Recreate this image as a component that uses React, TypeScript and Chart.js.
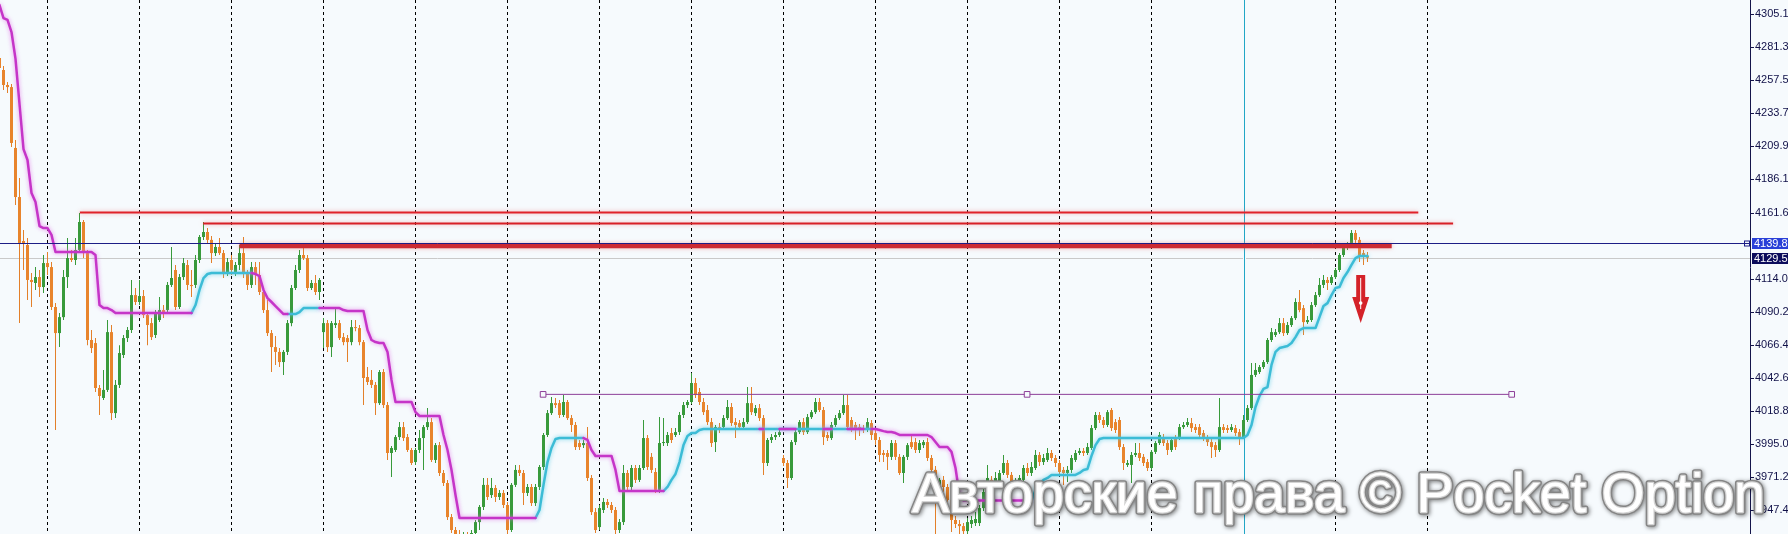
import React, { useEffect, useRef } from "react";
import { Chart, registerables } from "chart.js";
Chart.register(...registerables);

// ---- candle data (one bar per index, oldest first) ----
const opens = [
4273.5,4264.9,4254.1,4252.6,4208.7,4173.3,4141.6,4138.7,4113.5,4111.3,
4115.6,4108.4,4125.7,4122.8,4094.0,4075.2,4086.7,4115.6,4129.3,4127.9,
4135.1,4155.3,4132.9,4070.2,4068.0,4035.6,4028.4,4034.2,4075.9,4017.5,
4037.8,4059.4,4071.6,4077.4,4102.6,4097.6,4101.9,4088.2,4082.4,4073.8,
4084.6,4091.8,4091.8,4109.9,4120.7,4094.0,4115.6,4124.3,4109.9,4109.9,
4127.9,4144.5,4148.1,4142.4,4132.9,4137.3,4132.9,4118.5,4127.9,4119.2,
4124.3,4132.9,4118.5,4109.9,4122.8,4117.1,4104.8,4091.8,4075.2,4065.1,
4061.6,4054.3,4061.6,4082.4,4107.7,4120.7,4131.5,4129.3,4107.7,4111.3,
4104.8,4075.9,4082.4,4065.1,4081.0,4082.4,4072.3,4071.6,4068.7,4079.5,
4078.8,4068.7,4043.5,4041.4,4037.8,4024.7,4047.1,4023.3,3988.7,3990.9,
4000.2,4007.4,4000.2,3990.9,3982.2,3990.9,3999.5,4007.4,4011.0,3983.7,
3994.4,3974.3,3967.1,3942.5,3933.2,3929.6,3926.0,3929.6,3922.3,3931.0,
3938.9,3949.8,3965.7,3958.4,3963.5,3957.0,3959.9,3951.2,3933.2,3965.7,
3976.5,3974.3,3959.9,3964.2,3952.6,3964.2,3978.6,4001.7,4017.5,4024.7,
4024.7,4016.1,4025.5,4013.9,4008.9,3995.9,3994.4,3995.9,3970.7,3946.1,
3935.3,3947.6,3953.4,3951.2,3947.6,3933.2,3938.9,3974.3,3964.2,3977.9,
3969.3,3977.9,3999.5,3985.9,3975.0,3962.1,3995.9,3995.9,4003.1,4001.7,
4003.8,4016.1,4023.3,4025.5,4039.2,4032.7,4025.5,4019.7,4011.0,3996.6,
4007.4,4007.4,4013.9,4021.9,4011.0,4010.3,4007.4,4011.0,4024.7,4017.5,
4021.1,4013.9,3981.5,3998.1,4000.2,4001.7,3985.1,3981.5,3970.7,3996.6,
4003.8,4011.0,4003.8,4014.6,4018.2,4025.5,4019.7,4001.7,3999.5,4008.9,
4013.9,4017.5,4023.3,4012.5,4008.9,4007.4,4006.7,4005.3,4010.3,4003.1,
3998.1,3988.7,3988.7,3985.9,3995.9,3985.9,3974.3,3985.9,3996.6,3996.6,
3990.9,3994.4,3996.6,3985.1,3976.5,3960.6,3969.3,3964.2,3954.8,3940.4,
3937.5,3936.0,3932.4,3937.5,3938.2,3938.2,3949.0,3963.5,3969.3,3967.1,
3967.1,3974.3,3981.5,3972.9,3965.7,3967.1,3969.3,3977.9,3974.3,3977.9,
3987.3,3982.2,3983.7,3988.7,3985.1,3981.5,3976.5,3974.3,3976.5,3983.7,
3988.7,3990.2,3988.7,3992.3,4006.7,4016.1,4012.5,4008.9,4019.7,4011.0,
4012.5,3993.0,3980.1,3980.1,3987.3,3988.7,3985.9,3982.2,3977.9,3989.5,
3995.9,4000.2,3995.9,3990.9,3999.5,3999.5,4007.4,4008.9,4010.3,4007.4,
4007.4,4003.1,3999.5,3996.6,3994.4,3990.9,4007.4,4006.7,4005.3,4006.7,
4003.8,4000.2,4012.5,4021.1,4045.0,4047.1,4050.7,4054.3,4070.2,4073.8,
4075.9,4082.4,4075.2,4081.0,4086.0,4097.6,4093.2,4083.1,4084.6,4095.4,
4102.6,4109.9,4113.5,4111.3,4115.6,4120.7,4131.5,4136.6,4138.7,4147.4,
4142.4,4132.9,4130.8
];
const highs = [
4276.4,4267.8,4256.2,4254.8,4214.5,4187.0,4149.6,4143.8,4118.5,4122.8,
4120.7,4131.5,4133.7,4126.4,4096.8,4089.6,4120.7,4143.8,4135.1,4143.8,
4161.8,4156.8,4135.1,4077.4,4071.6,4037.8,4048.6,4084.6,4081.0,4041.4,
4066.5,4073.8,4079.5,4113.5,4107.7,4113.5,4106.3,4090.3,4086.0,4091.8,
4101.2,4095.4,4112.0,4137.3,4124.3,4117.8,4129.3,4127.9,4120.7,4131.5,
4146.0,4155.3,4151.0,4145.2,4140.2,4143.8,4135.1,4129.3,4131.5,4126.4,
4138.7,4144.5,4120.7,4126.4,4126.4,4126.4,4107.7,4099.0,4077.4,4073.0,
4064.4,4063.0,4084.6,4109.9,4124.3,4135.1,4136.6,4131.5,4113.5,4117.1,
4114.9,4086.0,4084.6,4083.9,4094.0,4084.6,4075.2,4073.8,4084.6,4084.6,
4081.0,4070.2,4050.7,4048.6,4039.9,4048.6,4049.3,4025.5,3993.7,4001.7,
4011.0,4011.0,4002.4,3992.3,3992.3,4005.3,4008.9,4021.1,4013.9,3995.9,
3996.6,3976.5,3969.3,3944.7,3935.3,3933.2,3931.7,3931.7,3933.2,3940.4,
3951.2,3970.7,3970.7,3970.7,3965.7,3962.1,3962.1,3953.4,3967.1,3980.1,
3980.1,3976.5,3966.4,3966.4,3966.4,3980.1,4003.1,4019.7,4029.1,4028.4,
4026.9,4030.5,4026.9,4016.1,4011.0,3998.1,3998.1,4007.4,3972.9,3949.0,
3951.2,3956.3,3955.6,3953.4,3949.8,3941.1,3980.1,3976.5,3980.1,3980.1,
3980.1,4012.5,4001.7,3988.7,3977.9,4014.6,4013.9,4003.8,4006.7,4006.7,
4018.2,4025.5,4026.9,4046.4,4042.8,4035.6,4028.4,4023.3,4013.9,4008.9,
4010.3,4016.1,4026.9,4024.7,4013.9,4012.5,4013.9,4036.3,4036.3,4023.3,
4024.0,4016.1,3999.5,4002.4,4003.8,4006.7,3987.3,3983.7,3998.1,4005.3,
4012.5,4013.9,4016.8,4019.7,4028.4,4028.4,4021.9,4003.8,4011.0,4016.1,
4019.7,4030.5,4030.5,4014.6,4011.0,4009.6,4008.9,4013.9,4012.5,4005.3,
4000.2,3990.9,3990.9,3998.1,3998.1,3988.0,3987.3,3995.9,4001.7,3999.5,
3998.1,3998.1,3999.5,3987.3,3979.4,3970.7,3972.1,3966.4,3957.0,3943.3,
3940.4,3938.2,3941.8,3943.3,3946.1,3951.2,3963.5,3980.1,3972.1,3975.0,
3976.5,3987.3,3983.7,3975.0,3970.7,3972.9,3980.1,3981.5,3982.2,3990.9,
3989.5,3988.0,3992.3,3990.9,3987.3,3983.7,3978.6,3979.4,3987.3,3990.9,
3992.3,3992.3,3995.9,4008.9,4018.2,4018.2,4014.6,4019.7,4021.1,4013.2,
4014.6,3995.2,3983.7,3989.5,3995.9,3995.9,3988.0,3984.4,3990.9,3997.3,
4003.8,4002.4,3998.1,4000.2,4001.7,4009.6,4011.0,4013.9,4013.9,4009.6,
4009.6,4005.3,4001.7,3998.8,3996.6,4028.4,4009.6,4008.9,4009.6,4008.9,
4006.0,4016.1,4023.3,4053.6,4053.6,4052.2,4055.8,4071.6,4078.8,4078.1,
4086.0,4086.0,4083.1,4087.5,4100.4,4106.3,4095.4,4087.5,4097.6,4104.8,
4114.9,4117.1,4115.6,4117.1,4122.1,4132.9,4138.0,4140.9,4149.6,4149.6,
4144.5,4135.1,4133.7
];
const lows = [
4264.2,4250.5,4248.3,4209.4,4167.6,4082.4,4120.7,4099.0,4094.0,4106.3,
4101.2,4104.1,4117.1,4091.8,4005.3,4065.1,4084.6,4107.7,4126.4,4124.3,
4133.7,4129.3,4066.5,4060.8,4032.7,4016.1,4026.9,4032.7,4012.5,4013.9,
4035.6,4057.2,4068.7,4075.2,4095.4,4095.4,4086.0,4066.5,4070.2,4071.6,
4083.1,4086.0,4090.3,4108.4,4091.8,4092.5,4113.5,4106.3,4101.2,4107.7,
4125.7,4142.4,4140.2,4125.7,4130.8,4131.5,4114.9,4116.3,4117.1,4116.3,
4120.7,4114.9,4106.3,4107.7,4109.9,4102.6,4089.6,4073.0,4047.1,4052.2,
4050.7,4045.0,4059.4,4080.2,4106.3,4118.5,4127.9,4105.5,4106.3,4102.6,
4099.0,4064.4,4061.6,4058.0,4078.8,4070.2,4066.5,4054.3,4066.5,4076.6,
4066.5,4023.3,4037.8,4035.6,4016.1,4023.3,4021.1,3983.7,3971.4,3989.5,
3998.1,3997.3,3989.5,3980.1,3980.1,3988.7,3976.5,4005.3,3982.2,3981.5,
3972.1,3964.9,3940.4,3931.0,3926.0,3920.2,3921.6,3920.2,3918.7,3928.1,
3933.2,3947.6,3954.8,3956.3,3953.4,3954.8,3949.0,3930.3,3931.7,3964.2,
3972.1,3951.2,3957.7,3950.5,3950.5,3962.1,3976.5,4000.2,4016.1,4021.1,
4013.9,4014.6,4012.5,4003.8,3990.9,3990.9,3992.3,3968.5,3944.0,3931.0,
3933.2,3945.4,3949.0,3945.4,3930.3,3931.0,3936.8,3962.1,3962.1,3967.1,
3967.8,3976.5,3976.5,3974.3,3959.9,3959.9,3993.7,3993.7,3995.9,4000.2,
4001.7,4013.9,4021.1,4024.0,4028.4,4023.3,4016.1,4008.9,3993.0,3989.5,
4003.1,4005.3,4012.5,4008.1,3999.5,4005.3,4005.3,4009.6,4016.1,4015.4,
4011.8,3972.9,3979.4,3995.9,3998.1,4000.2,3979.4,3963.5,3969.3,3994.4,
4002.4,4001.7,4002.4,4013.2,4016.8,4018.2,3994.4,3997.3,3998.1,4007.4,
4012.5,4016.1,4005.3,4003.8,3998.1,4000.9,4003.1,4003.8,3998.1,3994.4,
3982.2,3982.2,3976.5,3983.7,3983.7,3972.9,3967.1,3983.7,3991.6,3988.7,
3988.7,3992.3,3983.0,3974.3,3930.3,3954.8,3960.6,3951.2,3931.7,3934.6,
3930.3,3928.1,3928.8,3934.6,3936.0,3936.0,3946.9,3962.1,3964.2,3964.9,
3964.9,3972.9,3970.7,3962.1,3963.5,3964.9,3967.8,3972.1,3972.1,3976.5,
3979.4,3980.1,3982.2,3983.0,3978.6,3972.9,3965.7,3967.8,3974.3,3982.2,
3987.3,3986.6,3987.3,3990.9,4005.3,4010.3,4006.7,4007.4,4004.5,4003.1,
3990.9,3976.5,3978.6,3967.1,3985.9,3983.0,3979.4,3975.7,3976.5,3988.0,
3994.4,3993.7,3987.3,3989.5,3990.9,3998.1,4006.0,4007.4,4003.8,4003.1,
3999.5,3997.3,3993.7,3985.1,3985.9,3989.5,4003.1,4003.1,4003.8,4000.9,
3994.4,3998.8,4011.0,4019.7,4043.5,4045.7,4049.3,4052.9,4068.7,4072.3,
4074.5,4073.0,4073.8,4079.5,4084.6,4090.3,4073.8,4081.7,4083.1,4094.0,
4101.2,4107.7,4106.3,4109.9,4114.2,4119.2,4130.1,4135.1,4137.3,4140.2,
4126.4,4124.3,4126.4
];
const closes = [
4266.3,4254.1,4252.6,4212.3,4173.3,4140.2,4139.5,4113.5,4112.0,4115.6,
4108.4,4125.7,4122.8,4094.0,4075.2,4086.7,4115.6,4129.3,4127.9,4135.1,
4155.3,4132.9,4070.2,4064.4,4035.6,4029.8,4034.2,4075.9,4017.5,4037.8,
4060.8,4071.6,4077.4,4102.6,4097.6,4101.9,4088.2,4081.0,4072.3,4089.6,
4091.8,4089.6,4109.9,4114.9,4094.0,4115.6,4125.7,4109.9,4109.1,4127.9,
4144.5,4148.1,4142.4,4132.9,4137.3,4132.9,4119.2,4126.4,4120.7,4124.3,
4132.9,4118.5,4109.9,4122.8,4117.1,4104.8,4091.8,4075.2,4065.1,4061.6,
4054.3,4061.6,4082.4,4107.7,4120.7,4131.5,4129.3,4107.7,4111.3,4104.8,
4113.5,4082.4,4065.1,4082.4,4082.4,4071.6,4068.7,4068.7,4079.5,4078.8,
4068.7,4042.8,4039.9,4037.8,4024.7,4047.1,4023.3,3988.7,3992.3,4000.2,
4007.4,3999.5,3990.9,3981.5,3990.9,3999.5,4007.4,4011.0,3983.7,3994.4,
3974.3,3967.1,3942.5,3933.2,3929.6,3926.0,3929.6,3924.5,3931.0,3938.9,
3949.8,3965.7,3957.0,3963.5,3957.0,3959.9,3951.2,3933.2,3965.7,3976.5,
3974.3,3959.9,3964.2,3952.6,3964.2,3978.6,4001.7,4017.5,4024.7,4023.3,
4016.1,4025.5,4013.9,4008.9,3993.0,3993.0,3995.9,3970.7,3946.1,3933.2,
3949.0,3953.4,3951.2,3947.6,3933.2,3938.9,3974.3,3964.2,3977.9,3969.3,
3977.9,3999.5,3978.6,3976.5,3962.1,3995.9,3996.6,4001.7,3998.1,4003.8,
4016.1,4023.3,4025.5,4039.2,4030.5,4025.5,4018.2,4011.0,3995.9,4007.4,
4005.3,4013.9,4021.9,4010.3,4008.9,4007.4,4011.0,4024.7,4018.2,4021.1,
4013.9,3981.5,3998.1,4000.2,4001.7,4003.8,3981.5,3970.7,3996.6,4003.8,
4011.0,4003.8,4014.6,4018.2,4025.5,4019.7,4000.2,3999.5,4008.9,4013.9,
4017.5,4023.3,4007.4,4006.7,4005.3,4005.3,4005.3,4011.0,4001.7,3998.1,
3987.3,3987.3,3985.9,3995.9,3985.9,3974.3,3985.9,3994.4,3993.0,3990.9,
3995.9,3996.6,3985.1,3976.5,3960.6,3969.3,3964.2,3954.8,3940.4,3937.5,
3936.0,3932.4,3938.9,3940.4,3941.1,3949.0,3960.6,3970.7,3967.1,3970.7,
3974.3,3981.5,3972.9,3967.1,3967.8,3970.7,3977.9,3974.3,3978.6,3987.3,
3982.2,3985.1,3988.7,3985.1,3981.5,3975.0,3974.3,3976.5,3985.1,3988.7,
3990.2,3988.7,3993.0,4006.7,4016.1,4012.5,4008.9,4018.2,4006.7,4005.3,
3993.0,3981.5,3981.5,3987.3,3988.7,3985.1,3981.5,3977.9,3989.5,3995.9,
4001.7,3995.9,3990.9,3998.1,3993.0,4007.4,4008.9,4011.0,4006.7,4005.3,
4001.7,3999.5,3996.6,3993.0,3990.9,4007.4,4005.3,4005.3,4007.4,4003.1,
4000.2,4012.5,4021.1,4045.0,4048.6,4050.7,4054.3,4070.2,4075.9,4075.9,
4082.4,4075.2,4081.0,4086.0,4097.6,4091.8,4083.1,4084.6,4095.4,4102.6,
4109.9,4113.5,4111.3,4115.6,4120.7,4131.5,4136.6,4138.7,4147.4,4142.4,
4131.5,4130.1,4129.55
];

// ---- trailing-stop indicator: [bar, price]; null price breaks the line ----
const magentaStop: [number, number | null][] = [
[0,4311.8],[1,4302.4],[2,4301.0],[3,4292.3],[4,4272.9],[5,4240.4],[6,4207.9],[7,4200.0],[8,4176.2],[9,4169.7],
[10,4152.4],[11,4150.9],[12,4150.9],[13,4146.0],[14,4133.7],[23,4133.7],[24,4131.5],[25,4095.4],[26,4093.2],[27,4093.2],
[28,4091.8],[29,4089.6],[48,4089.6],[49,null],
[63,4118.5],[64,4117.8],[65,4116.3],[66,4106.3],[67,4100.4],[68,4097.6],[69,4094.7],[70,4091.8],[71,4088.9],[72,4088.9],[73,null],
[80,4093.2],[85,4093.2],[86,4091.8],[87,4091.1],[91,4091.1],[92,4077.4],[93,4070.2],[94,4068.7],[95,4068.0],[96,4068.0],
[97,4061.6],[98,4041.4],[99,4025.5],[103,4025.5],[104,4018.2],[105,4015.4],[110,4015.4],[111,4001.7],[112,3990.9],[113,3976.5],
[114,3958.4],[115,3941.8],[134,3941.8],[135,null],
[146,3999.5],[147,3998.1],[148,3990.9],[149,3986.6],[153,3986.6],[154,3976.5],[155,3961.3],[166,3961.3],[167,null],
[190,4006.0],[191,4006.0],[192,null],[195,4006.0],[199,4006.0],[200,null],[206,4006.0],[208,4006.0],[209,null],
[212,4006.0],[216,4006.0],[217,null],
[218,4006.0],[219,4006.0],[220,4005.3],[221,4004.5],[222,4003.8],[223,4003.8],[224,4003.1],[225,4001.7],[232,4001.7],[233,4000.2],
[234,3996.6],[235,3993.0],[237,3993.0],[238,3989.5],[239,3977.9],[240,3958.4],[241,3954.4],[258,3954.4]
];
const cyanStop: [number, number | null][] = [
[48,4089.6],[49,4095.4],[50,4106.3],[51,4114.9],[52,4117.8],[53,4118.5],[63,4118.5],[64,null],
[72,4088.9],[74,4088.9],[75,4090.3],[76,4093.2],[80,4093.2],[81,null],
[134,3941.8],[135,3947.6],[136,3965.7],[137,3982.2],[138,3992.3],[139,3998.8],[140,3999.5],[146,3999.5],[147,null],
[166,3961.3],[167,3964.2],[168,3969.3],[169,3973.6],[170,3982.2],[171,3994.4],[172,4000.9],[173,4003.1],[174,4003.1],[175,4005.3],
[176,4006.0],[218,4006.0],[219,null],
[258,3954.4],[259,3962.0],[260,3966.4],[261,3969.3],[262,3970.7],[263,3972.9],[269,3972.9],[270,3974.3],[271,3976.5],[272,3977.2],
[273,3986.6],[274,3994.4],[275,3998.8],[276,3999.5],[311,3999.5],[312,4001.7],[313,4008.9],[314,4021.9],[315,4029.8],[316,4034.9],
[317,4036.3],[318,4052.2],[319,4061.6],[320,4064.4],[321,4065.1],[322,4065.9],[323,4068.0],[324,4072.3],[325,4077.4],[326,4078.8],
[329,4078.8],[330,4086.7],[331,4094.7],[332,4096.8],[333,4102.6],[334,4107.7],[335,4108.4],[336,4114.9],[337,4119.2],[338,4124.3],
[339,4129.3],[340,4130.8],[342,4130.8]
];

// ---- drawn objects (bar index / price) ----
const resistanceFrom = [20.1, 50.9, 60.0];
const resistanceTo = [354.7, 363.4, 348.05];
const resistancePrice = [4162.2, 4154.2, 4138.2];
const supportAnchors = [135.9, 256.9, 378.05];
const supportPrice = 4031.0;
const arrowBar = 340.3;
const arrowTop = 4117.1;
const arrowTip = 4082.4;
const sessionBar = 311.05;
const separatorBars = [12.05, 35.05, 58.05, 81.05, 104.05, 127.05, 150.05, 173.05, 196.05, 219.05, 242.05, 265.05, 288.05, 311.05, 334.05, 357.05];
const currentPrice = 4139.83;
const bidPrice = 4129.55;

// ---- axis ----
const yTickValues = [4305.1, 4281.3, 4257.5, 4233.7, 4209.9, 4186.1, 4161.6, 4114.0, 4090.2, 4066.4, 4042.6, 4018.8, 3995.0, 3971.2, 3947.4];
const yMin = 3930.3;
const yMax = 4315.4;
const xMin = 0.125;
const xMax = 437.625;
const watermarkText = "Авторские права © Pocket Option";

const BG = "#f6fafd";
const UP_BODY = "#389a3b";
const DOWN_BODY = "#e8842c";
const UP_WICK = "#389a3b";
const DOWN_WICK = "#e3802a";
const RED_STYLES = [
  { color: "#e0222a", width: 2 },
  { color: "#d81f26", width: 2 },
  { color: "#cc2a33", width: 5 },
];
const AXIS_FONT = '"Liberation Sans", Arial, sans-serif';

const glowPlugin = {
  id: "glow",
  beforeDatasetDraw(chart: any, args: any) {
    const ds = chart.data.datasets[args.index];
    if (!ds.glow) return;
    chart.ctx.save();
    chart.ctx.shadowColor = ds.glow;
    chart.ctx.shadowBlur = 4;
  },
  afterDatasetDraw(chart: any, args: any) {
    const ds = chart.data.datasets[args.index];
    if (!ds.glow) return;
    chart.ctx.restore();
  },
};

const overlayPlugin = {
  id: "overlay",
  beforeDatasetsDraw(chart: any) {
    const { ctx, chartArea, scales } = chart;
    const x = scales.x, y = scales.y;
    ctx.save();
    ctx.lineWidth = 1;
    const yg = Math.round(y.getPixelForValue(bidPrice)) + 0.5;
    ctx.strokeStyle = "#c9c9c9";
    ctx.beginPath(); ctx.moveTo(chartArea.left, yg); ctx.lineTo(chartArea.right, yg); ctx.stroke();
    const xv = Math.round(x.getPixelForValue(sessionBar)) + 0.5;
    ctx.fillStyle = BG;
    ctx.fillRect(xv - 1.5, chartArea.top, 3, chartArea.bottom - chartArea.top);
    ctx.strokeStyle = "#22a6c6";
    ctx.beginPath(); ctx.moveTo(xv, chartArea.top); ctx.lineTo(xv, chartArea.bottom); ctx.stroke();
    ctx.restore();
  },
  afterDatasetsDraw(chart: any) {
    const { ctx, chartArea, scales } = chart;
    const x = scales.x, y = scales.y;
    ctx.save();
    const yb = Math.round(y.getPixelForValue(currentPrice)) + 0.5;
    ctx.strokeStyle = "#1d1d86";
    ctx.lineWidth = 1;
    ctx.beginPath(); ctx.moveTo(chartArea.left, yb); ctx.lineTo(chartArea.right, yb); ctx.stroke();
    ctx.strokeRect(chartArea.right - 5.5, yb - 2.5, 5, 5);
    const xc = x.getPixelForValue(arrowBar);
    const y0 = y.getPixelForValue(arrowTop);
    const y1 = y.getPixelForValue(arrowTip);
    const headH = 26, shaftW = 4.5, headW = 8.5;
    ctx.fillStyle = "#d42229";
    ctx.beginPath();
    ctx.moveTo(xc - shaftW, y0);
    ctx.lineTo(xc + shaftW, y0);
    ctx.lineTo(xc + shaftW, y1 - headH);
    ctx.lineTo(xc + headW, y1 - headH);
    ctx.lineTo(xc, y1);
    ctx.lineTo(xc - headW, y1 - headH);
    ctx.lineTo(xc - shaftW, y1 - headH);
    ctx.closePath();
    ctx.fill();
    ctx.strokeStyle = "#ffffff";
    ctx.lineWidth = 1;
    ctx.beginPath(); ctx.moveTo(xc, y0 + 3); ctx.lineTo(xc, y1 - 14); ctx.stroke();
    ctx.fillStyle = "#ffffff";
    ctx.beginPath(); ctx.arc(xc, y1 - 20, 1.8, 0, Math.PI * 2); ctx.fill();
    ctx.restore();
  },
  afterDraw(chart: any) {
    const { ctx, chartArea, scales } = chart;
    const y = scales.y;
    ctx.save();
    const tags = [
      { v: currentPrice, bg: "#2a40d8" },
      { v: bidPrice, bg: "#0c0c5c" },
    ];
    ctx.font = `11px ${AXIS_FONT}`;
    ctx.textBaseline = "middle";
    for (const t of tags) {
      const yy = Math.round(y.getPixelForValue(t.v));
      ctx.fillStyle = t.bg;
      ctx.fillRect(chartArea.right + 2, yy - 5, 40, 11);
      ctx.fillStyle = "#ffffff";
      ctx.fillText(t.v.toFixed(2), chartArea.right + 4, yy + 0.5);
    }
    const targetW = 853;
    ctx.font = `100px ${AXIS_FONT}`;
    const w100 = ctx.measureText(watermarkText).width;
    const fs = (100 * targetW) / w100;
    ctx.font = `${fs}px ${AXIS_FONT}`;
    ctx.textBaseline = "alphabetic";
    ctx.lineJoin = "round";
    const tx = 912, ty = 512;
    ctx.shadowColor = "rgba(0,0,0,0.5)";
    ctx.shadowBlur = 4;
    ctx.shadowOffsetX = 1;
    ctx.shadowOffsetY = 1;
    ctx.strokeStyle = "#858585";
    ctx.lineWidth = 5.5;
    ctx.strokeText(watermarkText, tx, ty);
    ctx.shadowColor = "transparent";
    ctx.strokeStyle = "#d4d4d4";
    ctx.lineWidth = 2.5;
    ctx.strokeText(watermarkText, tx, ty);
    ctx.fillStyle = "#ffffff";
    ctx.fillText(watermarkText, tx, ty);
    ctx.restore();
  },
};

export default function App() {
  const ref = useRef<HTMLCanvasElement>(null);
  useEffect(() => {
    document.body.style.margin = "0";
    document.body.style.background = BG;
    const up = closes.map((c, i) => c >= opens[i]);
    const datasets: any[] = [
      {
        type: "bar",
        label: "wicks",
        data: closes.map((_, i) => ({ x: i, y: [lows[i], highs[i]] })),
        backgroundColor: up.map((u) => (u ? UP_WICK : DOWN_WICK)),
        barThickness: 1,
        grouped: false,
        inflateAmount: 0,
        borderWidth: 0,
        order: 11,
      },
      {
        type: "bar",
        label: "bodies",
        data: closes.map((c, i) => ({ x: i, y: [opens[i], c] })),
        backgroundColor: up.map((u) => (u ? UP_BODY : DOWN_BODY)),
        barThickness: 3,
        minBarLength: 1,
        grouped: false,
        inflateAmount: 0,
        borderWidth: 0,
        order: 10,
      },
      {
        type: "line",
        label: "cyan",
        data: cyanStop.map(([x, v]) => ({ x, y: v })),
        borderColor: "#3cbcd6",
        borderWidth: 2.5,
        pointRadius: 0,
        spanGaps: false,
        borderJoinStyle: "round",
        borderCapStyle: "round",
        order: 3,
        glow: "rgba(90,205,230,0.8)",
      },
      {
        type: "line",
        label: "magenta",
        data: magentaStop.map(([x, v]) => ({ x, y: v })),
        borderColor: "#c535c8",
        borderWidth: 2.5,
        pointRadius: 0,
        spanGaps: false,
        borderJoinStyle: "round",
        borderCapStyle: "round",
        order: 2,
        glow: "rgba(225,110,230,0.8)",
      },
      ...resistancePrice.map((p, k) => ({
        type: "line",
        label: "res" + k,
        data: [
          { x: resistanceFrom[k], y: p },
          { x: resistanceTo[k], y: p },
        ],
        borderColor: RED_STYLES[k].color,
        borderWidth: RED_STYLES[k].width,
        pointRadius: 0,
        order: 1,
        glow: "rgba(240,120,120,0.6)",
      })),
      {
        type: "line",
        label: "support",
        data: supportAnchors.map((a) => ({ x: a, y: supportPrice })),
        borderColor: "#8d3e98",
        borderWidth: 1,
        pointStyle: "rect",
        pointRadius: 4,
        pointBackgroundColor: BG,
        pointBorderColor: "#8d3e98",
        pointBorderWidth: 1,
        order: 1,
      },
    ];
    const chart = new Chart(ref.current!, {
      type: "bar",
      data: { datasets },
      options: {
        animation: false,
        responsive: false,
        events: [],
        layout: { padding: 0, autoPadding: false },
        plugins: { legend: { display: false }, tooltip: { enabled: false } },
        scales: {
          x: {
            type: "linear",
            min: xMin,
            max: xMax,
            offset: false,
            afterBuildTicks: (s: any) => {
              s.ticks = separatorBars.map((v) => ({ value: v }));
            },
            afterFit: (s: any) => {
              s.height = 0;
              s.paddingLeft = 0;
              s.paddingRight = 0;
            },
            ticks: { display: false },
            grid: { color: "#000000", lineWidth: 1, drawTicks: false, offset: false },
            border: { display: false, dash: [3, 3] },
          },
          y: {
            type: "linear",
            position: "right",
            min: yMin,
            max: yMax,
            afterBuildTicks: (s: any) => {
              s.ticks = yTickValues.map((v) => ({ value: v }));
            },
            afterFit: (s: any) => {
              s.width = 38;
              s.paddingTop = 0;
              s.paddingBottom = 0;
            },
            ticks: {
              color: "#101048",
              padding: 1,
              font: { family: AXIS_FONT, size: 11 },
              callback: (v: any) => Number(v).toFixed(2),
            },
            grid: { drawOnChartArea: false, drawTicks: true, tickLength: 4, color: "#14144a" },
            border: { display: true, color: "#14144a", width: 1 },
          },
        },
      } as any,
      plugins: [glowPlugin, overlayPlugin],
    });
    return () => chart.destroy();
  }, []);
  return (
    <div style={{ width: 1788, height: 534, background: BG, overflow: "hidden" }}>
      <canvas ref={ref} width={1788} height={534} style={{ display: "block" }} />
    </div>
  );
}
